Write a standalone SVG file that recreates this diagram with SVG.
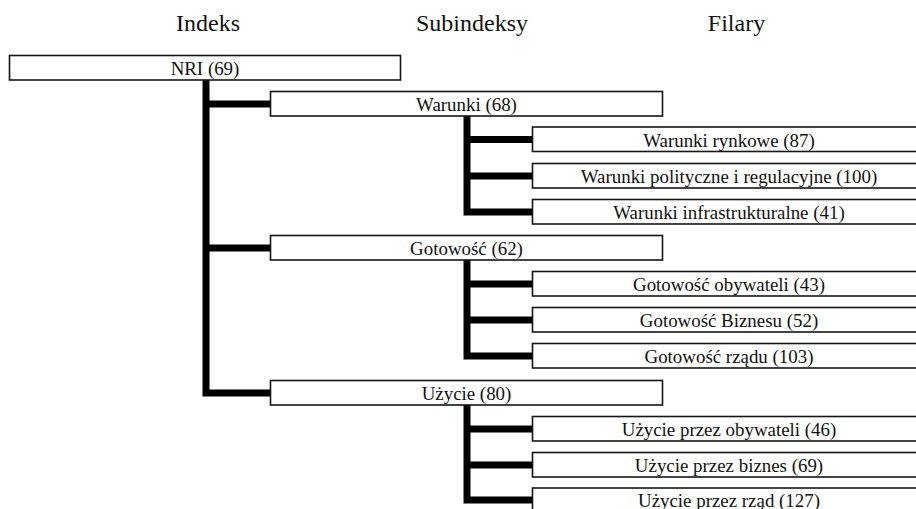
<svg xmlns="http://www.w3.org/2000/svg" width="916" height="509" viewBox="0 0 916 509">
<style>
.b{fill:#fff;stroke:#151515;stroke-width:1.6}
.t{font-family:'Liberation Serif','Times New Roman',Tinos,'DejaVu Serif',serif;font-size:18.9px;fill:#111;text-anchor:middle}
.h{font-family:'Liberation Serif','Times New Roman',Tinos,'DejaVu Serif',serif;font-size:24px;fill:#111;text-anchor:middle}
.c{fill:none;stroke:#000;stroke-width:7;stroke-linejoin:miter;stroke-linecap:butt}
</style>
<rect width="916" height="509" fill="#fff"/>
<g id="headers">
<text class="h" x="208" y="31">Indeks</text>
<text class="h" x="472" y="31">Subindeksy</text>
<text class="h" x="736.5" y="31">Filary</text>
</g>
<g id="connectors">
<path class="c" d="M206 80 V393 H270 M206 104 H270 M206 248 H270"/>
<path class="c" d="M467 116 V212 H532 M467 139.5 H532 M467 176 H532"/>
<path class="c" d="M467 260 V356 H532 M467 284 H532 M467 320 H532"/>
<path class="c" d="M467 405 V500 H532 M467 429 H532 M467 465 H532"/>
</g>
<g id="nri"><rect class="b" x="9.5" y="55.5" width="391" height="24.5"/><text class="t" x="205" y="75">NRI (69)</text></g>
<g id="warunki"><rect class="b" x="270.5" y="91.5" width="392" height="24.5"/><text class="t" x="466.5" y="111">Warunki (68)</text></g>
<g id="warunki-rynkowe"><rect class="b" x="532.5" y="127" width="394" height="24.5"/><text class="t" x="729" y="146.5">Warunki rynkowe (87)</text></g>
<g id="warunki-polityczne"><rect class="b" x="532.5" y="163.5" width="394" height="24.5"/><text class="t" x="729" y="183">Warunki polityczne i regulacyjne (100)</text></g>
<g id="warunki-infra"><rect class="b" x="532.5" y="199.5" width="394" height="24.5"/><text class="t" x="729" y="219">Warunki infrastrukturalne (41)</text></g>
<g id="gotowosc"><rect class="b" x="270.5" y="235.5" width="392" height="24.5"/><text class="t" x="466.5" y="255">Gotowość (62)</text></g>
<g id="gotowosc-obywateli"><rect class="b" x="532.5" y="271.5" width="394" height="24.5"/><text class="t" x="729" y="291">Gotowość obywateli (43)</text></g>
<g id="gotowosc-biznesu"><rect class="b" x="532.5" y="307.5" width="394" height="24.5"/><text class="t" x="729" y="327">Gotowość Biznesu (52)</text></g>
<g id="gotowosc-rzadu"><rect class="b" x="532.5" y="343.5" width="394" height="24.5"/><text class="t" x="729" y="363">Gotowość rządu (103)</text></g>
<g id="uzycie"><rect class="b" x="270.5" y="380.5" width="392" height="24.5"/><text class="t" x="466.5" y="400">Użycie (80)</text></g>
<g id="uzycie-obywateli"><rect class="b" x="532.5" y="416.5" width="394" height="24.5"/><text class="t" x="729" y="436">Użycie przez obywateli (46)</text></g>
<g id="uzycie-biznes"><rect class="b" x="532.5" y="452.5" width="394" height="24.5"/><text class="t" x="729" y="472">Użycie przez biznes (69)</text></g>
<g id="uzycie-rzad"><rect class="b" x="532.5" y="488" width="394" height="24.5"/><text class="t" x="729" y="506.5">Użycie przez rząd (127)</text></g>
</svg>
